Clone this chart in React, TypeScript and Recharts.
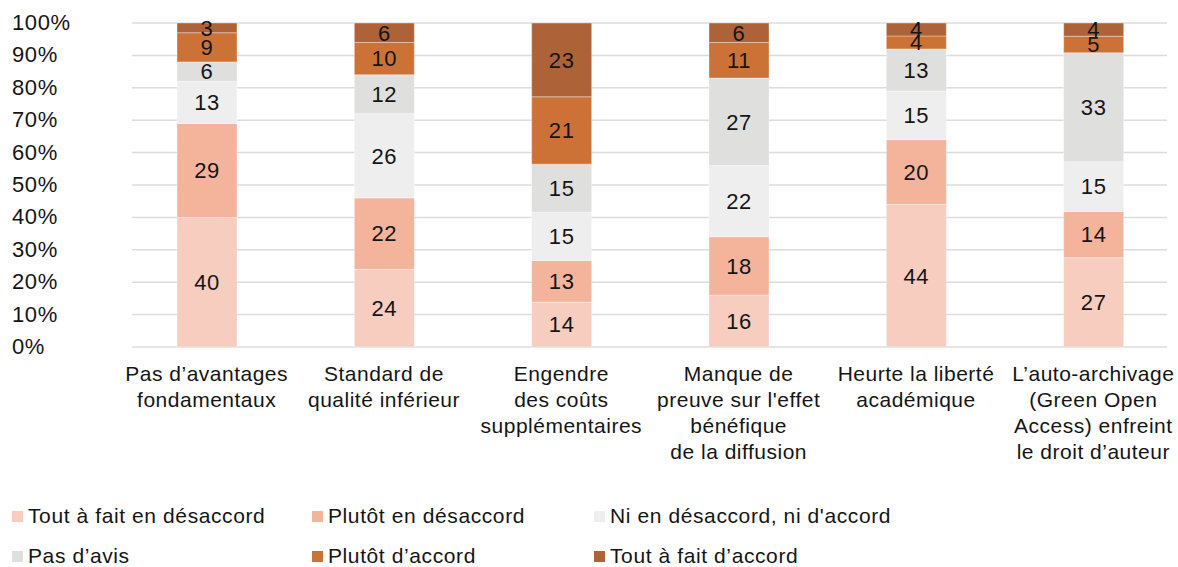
import React from 'react';
import { BarChart, Bar, XAxis, YAxis, CartesianGrid, Legend, LabelList } from 'recharts';

const categories = [
  'Pas d’avantages\nfondamentaux',
  'Standard de\nqualité inférieur',
  'Engendre\ndes coûts\nsupplémentaires',
  'Manque de\npreuve sur l\'effet\nbénéfique\nde la diffusion',
  'Heurte la liberté\nacadémique',
  'L’auto-archivage\n(Green Open\nAccess) enfreint\nle droit d’auteur',
];

const toutDesaccord = [40, 24, 14, 16, 44, 27];
const plutotDesaccord = [29, 22, 13, 18, 20, 14];
const niNi = [13, 26, 15, 22, 15, 15];
const pasAvis = [6, 12, 15, 27, 13, 33];
const plutotAccord = [9, 10, 21, 11, 4, 5];
const toutAccord = [3, 6, 23, 6, 4, 4];

const yTicks = [0, 0.1, 0.2, 0.3, 0.4, 0.5, 0.6, 0.7, 0.8, 0.9, 1];

const series = [
  { key: 'toutDesaccord', name: 'Tout à fait en désaccord', color: '#F7CDC0' },
  { key: 'plutotDesaccord', name: 'Plutôt en désaccord', color: '#F4B39B' },
  { key: 'niNi', name: "Ni en désaccord, ni d'accord", color: '#EEEEEE' },
  { key: 'pasAvis', name: 'Pas d’avis', color: '#DFDFDE' },
  { key: 'plutotAccord', name: 'Plutôt d’accord', color: '#CD7236' },
  { key: 'toutAccord', name: 'Tout à fait d’accord', color: '#AE6237' },
];

const data = categories.map((name, i) => ({
  name,
  toutDesaccord: toutDesaccord[i],
  plutotDesaccord: plutotDesaccord[i],
  niNi: niNi[i],
  pasAvis: pasAvis[i],
  plutotAccord: plutotAccord[i],
  toutAccord: toutAccord[i],
}));

const FONT = '"Liberation Sans", Arial, sans-serif';
const TEXT = '#151515';

const YTick = (props: any) => {
  const { y, payload } = props;
  return (
    <text x={12} y={y} dy={7} textAnchor="start" fill={TEXT} fontSize={22} fontFamily={FONT} letterSpacing={0.6}>
      {`${Math.round(payload.value * 100)}%`}
    </text>
  );
};

const XTick = (props: any) => {
  const { x, y, payload } = props;
  const lines = String(payload.value).split('\n');
  return (
    <text x={x} y={y} textAnchor="middle" fill={TEXT} fontSize={21} fontFamily={FONT} letterSpacing={0.5}>
      {lines.map((l, i) => (
        <tspan key={i} x={x} y={y + 26 + i * 26}>{l}</tspan>
      ))}
    </text>
  );
};

const legendCols = [12, 312, 594];

const LegendContent = () => (
  <div style={{ position: 'relative', width: 1178, height: 80, fontFamily: FONT, fontSize: 21, color: TEXT }}>
    {series.map((s, i) => (
      <div
        key={s.key}
        style={{
          position: 'absolute',
          left: legendCols[i % 3],
          top: i < 3 ? 0 : 40,
          display: 'flex',
          alignItems: 'center',
          whiteSpace: 'nowrap',
          letterSpacing: 0.6,
        }}
      >
        <span style={{ display: 'inline-block', width: 11, height: 11, background: s.color, marginRight: 5 }} />
        {s.name}
      </div>
    ))}
  </div>
);

export default function App() {
  return (
    <div style={{ position: 'absolute', left: 0, top: 0, width: 1178, height: 567, background: '#fff' }}>
      <BarChart
        width={1178}
        height={567}
        data={data}
        stackOffset="expand"
        margin={{ top: 23, right: 11, bottom: 0, left: 0 }}
      >
        <CartesianGrid vertical={false} stroke="#DCDCDC" strokeWidth={1.5} />
        <XAxis
          dataKey="name"
          axisLine={false}
          tickLine={false}
          interval={0}
          height={220}
          padding={{ left: -14, right: -15 }}
          tick={<XTick />}
        />
        <YAxis
          width={132}
          domain={[0, 1]}
          ticks={yTicks}
          axisLine={false}
          tickLine={false}
          tick={<YTick />}
        />
        <Legend
          layout="horizontal"
          verticalAlign="middle"
          align="center"
          wrapperStyle={{ top: 504, left: 0, width: 1178 }}
          content={() => <LegendContent />}
        />
        {series.map((s) => (
          <Bar
            key={s.key}
            dataKey={s.key}
            name={s.name}
            stackId="a"
            fill={s.color}
            barSize={60}
            stroke="#ffffff"
            strokeOpacity={0.35}
            strokeWidth={1}
            isAnimationActive={false}
          >
            <LabelList dataKey={s.key} position="center" fill={TEXT} fontSize={22} fontFamily={FONT} letterSpacing={0.6} />
          </Bar>
        ))}
      </BarChart>
    </div>
  );
}
